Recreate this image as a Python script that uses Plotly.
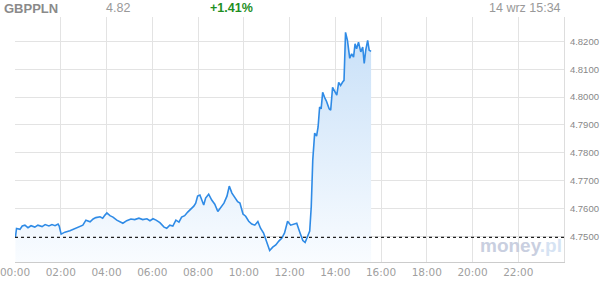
import pandas as pd
import plotly.graph_objects as go

times = ["00:01","00:04","00:13","00:19","00:26","00:34","00:42","00:52","01:00","01:11",
         "01:19","01:29","01:37","01:45","01:53","01:56","02:01","02:11","02:24","02:37",
         "02:50","02:58","03:06","03:17","03:25","03:32","03:43","03:50","03:56","04:01",
         "04:09","04:17","04:27","04:35","04:43","04:53","05:04","05:14","05:25","05:35",
         "05:46","05:54","06:02","06:10","06:20","06:31","06:38","06:46","06:54","07:02",
         "07:10","07:17","07:25","07:33","07:41","07:49","07:54","07:59","08:05","08:10",
         "08:15","08:20","08:28","08:36","08:44","08:52","09:00","09:08","09:16","09:22",
         "09:29","09:37","09:44","09:50","09:58","10:05","10:13","10:21","10:29","10:37",
         "10:44","10:52","11:00","11:08","11:16","11:24","11:32","11:40","11:47","11:55",
         "12:03","12:11","12:19","12:27","12:35","12:41","12:47","12:53","12:57","13:01",
         "13:06","13:11","13:15","13:19","13:23","13:27","13:32","13:37","13:44","13:48",
         "13:53","13:58","14:04","14:09","14:14","14:19","14:23","14:27","14:32","14:38",
         "14:43","14:48","14:52","14:56","15:01","15:07","15:12","15:16","15:20","15:25",
         "15:29","15:34"]
values = [4.7497,4.7529,4.7526,4.7538,4.7541,4.7532,4.7539,4.7534,4.7541,4.7536,
          4.7543,4.7538,4.7543,4.7539,4.7545,4.7538,4.7509,4.7516,4.7521,4.7529,
          4.7536,4.7541,4.7559,4.7553,4.7563,4.7568,4.7571,4.7566,4.7577,4.7585,
          4.7575,4.7570,4.7559,4.7554,4.7548,4.7557,4.7563,4.7561,4.7566,4.7561,
          4.7564,4.7557,4.7564,4.7559,4.7550,4.7534,4.7530,4.7541,4.7538,4.7559,
          4.7552,4.7570,4.7575,4.7588,4.7598,4.7609,4.7620,4.7645,4.7649,4.7627,
          4.7613,4.7638,4.7652,4.7631,4.7616,4.7590,4.7606,4.7620,4.7645,4.7681,
          4.7656,4.7638,4.7625,4.7620,4.7581,4.7573,4.7555,4.7545,4.7541,4.7554,
          4.7530,4.7513,4.7482,4.7450,4.7462,4.7470,4.7484,4.7495,4.7513,4.7555,
          4.7541,4.7545,4.7548,4.7516,4.7486,4.7479,4.7498,4.7520,4.7606,4.7774,
          4.7871,4.7860,4.7893,4.7964,4.7958,4.8017,4.7999,4.7985,4.7958,4.7953,
          4.8035,4.8024,4.8007,4.8053,4.8042,4.8053,4.8060,4.8232,4.8203,4.8139,
          4.8155,4.8143,4.8191,4.8173,4.8197,4.8162,4.8179,4.8121,4.8168,4.8203,
          4.8168,4.8164]

prev_close = 4.7497
day = "2017-09-14"
tick_hours = ["00:00","02:00","04:00","06:00","08:00","10:00","12:00",
              "14:00","16:00","18:00","20:00","22:00"]
y_ticks = [4.75, 4.76, 4.77, 4.78, 4.79, 4.80, 4.81, 4.82]
y_range = [4.7409, 4.8287]

x = pd.to_datetime([f"{day} {t}" for t in times])
tickvals = pd.to_datetime([f"{day} {t}" for t in tick_hours])

fig = go.Figure()
fig.add_trace(go.Scatter(
    x=x, y=values, mode="lines",
    line=dict(color="#2f8be6", width=1.6),
    fill="tozeroy",
    fillgradient=dict(type="vertical",
                      colorscale=[[0, "#f9fcff"], [1, "#c8e0f8"]],
                      start=y_range[0], stop=max(values)),
    hoverinfo="skip", showlegend=False,
))

fig.add_shape(type="line", xref="paper", yref="y", x0=0, x1=1,
              y0=prev_close, y1=prev_close,
              line=dict(color="#222222", width=1.3, dash="dot"))

fig.update_layout(
    width=600, height=285,
    margin=dict(l=15, r=36, t=17, b=23),
    paper_bgcolor="white", plot_bgcolor="white",
    font=dict(family="DejaVu Sans", color="#999999"),
    xaxis=dict(
        range=[pd.Timestamp(f"{day} 00:00"), pd.Timestamp(f"{day} 00:00") + pd.Timedelta(hours=24)],
        tickvals=tickvals, ticktext=tick_hours,
        showgrid=True, gridcolor="#e3e3e3", gridwidth=1,
        showline=True, linecolor="#cccccc", linewidth=1,
        ticks="", tickfont=dict(size=10.5, color="#a0a0a0"),
        ticklabeloverflow="allow", automargin=False,
        zeroline=False, fixedrange=True,
    ),
    yaxis=dict(
        range=y_range, side="right",
        tickvals=y_ticks, ticktext=[f"{v:.4f}" for v in y_ticks],
        showgrid=True, gridcolor="#e3e3e3", gridwidth=1,
        showline=True, linecolor="#dddddd", linewidth=1,
        ticks="outside", ticklen=3, tickcolor="white",
        tickfont=dict(family="Liberation Sans", size=9.5, color="#888888"),
        ticklabeloverflow="allow", automargin=False,
        zeroline=False, fixedrange=True,
    ),
    annotations=[
        dict(xref="paper", yref="paper", x=-13/549, y=1 + 9/245, xanchor="left", yanchor="middle",
             text="<b>GBPPLN</b>", showarrow=False,
             font=dict(family="Liberation Sans", size=13, color="#8a8a8a")),
        dict(xref="paper", yref="paper", x=89/549, y=1 + 9/245, xanchor="left", yanchor="middle",
             text="4.82", showarrow=False,
             font=dict(family="Liberation Sans", size=12.5, color="#999999")),
        dict(xref="paper", yref="paper", x=193/549, y=1 + 9/245, xanchor="left", yanchor="middle",
             text="<b>+1.41%</b>", showarrow=False,
             font=dict(family="Liberation Sans", size=12.5, color="#1f8f1f")),
        dict(xref="paper", yref="paper", x=548/549, y=1 + 9/245, xanchor="right", yanchor="middle",
             text="14 wrz 15:34", showarrow=False,
             font=dict(family="Liberation Sans", size=12.5, color="#999999")),
        dict(xref="paper", yref="paper", x=549/549, y=4/245, xanchor="right", yanchor="bottom",
             text="<b><span style='color:#c9cfe0'>money</span><span style='color:#d6e3f3'>.pl</span></b>",
             showarrow=False,
             font=dict(family="Liberation Sans", size=19)),
    ],
)

fig.write_html("out.html")
